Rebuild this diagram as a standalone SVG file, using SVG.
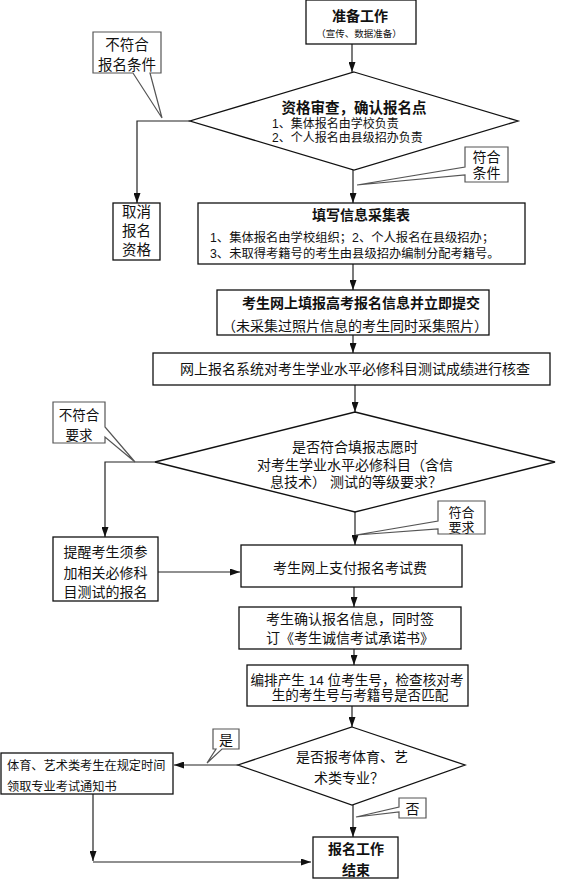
<svg xmlns="http://www.w3.org/2000/svg" width="574" height="880" viewBox="0 0 574 880">
<style>
text{font-family:"Liberation Sans","Noto Sans CJK SC",sans-serif;fill:#111;}
.box{fill:#fff;stroke:#111;stroke-width:1.3;}
.co{fill:#fff;stroke:#555;stroke-width:1.2;}
.ln{fill:none;stroke:#222;stroke-width:1.2;}
.c{text-anchor:middle;}
.b{font-weight:bold;}
</style>
<defs>
<marker id="ah" markerWidth="10" markerHeight="7" refX="10" refY="3.5" orient="auto" markerUnits="userSpaceOnUse">
<path d="M0,0 L10,3.5 L0,7 Z" fill="#111"/>
</marker>
</defs>
<rect width="574" height="880" fill="#fff"/>
<g id="connectors">
<line class="ln" x1="352" y1="44" x2="352" y2="72" marker-end="url(#ah)"/>
<polyline class="ln" points="190,121 137,121 137,203" marker-end="url(#ah)"/>
<line class="ln" x1="353" y1="170" x2="353" y2="203" marker-end="url(#ah)"/>
<line class="ln" x1="353" y1="264" x2="353" y2="290" marker-end="url(#ah)"/>
<line class="ln" x1="353" y1="335" x2="353" y2="353" marker-end="url(#ah)"/>
<line class="ln" x1="355" y1="385" x2="355" y2="412" marker-end="url(#ah)"/>
<polyline class="ln" points="155,462 105,462 105,537" marker-end="url(#ah)"/>
<line class="ln" x1="355" y1="512" x2="355" y2="545" marker-end="url(#ah)"/>
<line class="ln" x1="158" y1="572" x2="240" y2="572" marker-end="url(#ah)"/>
<line class="ln" x1="354" y1="587" x2="354" y2="607" marker-end="url(#ah)"/>
<line class="ln" x1="354" y1="649" x2="354" y2="665" marker-end="url(#ah)"/>
<line class="ln" x1="352" y1="706" x2="352" y2="727" marker-end="url(#ah)"/>
<line class="ln" x1="238" y1="765" x2="174" y2="765" marker-end="url(#ah)"/>
<line class="ln" x1="353" y1="805" x2="353" y2="837" marker-end="url(#ah)"/>
<line class="ln" x1="93" y1="794" x2="93" y2="861" marker-end="url(#ah)"/>
<line class="ln" x1="93" y1="862" x2="311" y2="862" marker-end="url(#ah)"/>
</g>
<g id="start">
<rect class="box" x="306" y="0" width="110" height="44"/>
<text class="c b" x="360" y="21" font-size="14">准备工作</text>
<text class="c" x="359" y="37" font-size="9.5">（宣传、数据准备）</text>
</g>
<g id="check1">
<polygon class="box" points="354,72 518,121 354,170 190,121"/>
<text class="c b" x="354" y="113" font-size="14.5">资格审查，确认报名点</text>
<text x="272" y="128" font-size="12">1、集体报名由学校负责</text>
<text x="272" y="142" font-size="12">2、个人报名由县级招办负责</text>
</g>
<g id="callout-nofit1">
<path class="co" d="M93,32 H161 V73 H150 L162,118 L133,73 H93 Z"/>
<text class="c" x="127" y="50" font-size="14.5">不符合</text>
<text class="c" x="127" y="70" font-size="14.5">报名条件</text>
</g>
<g id="callout-fit1">
<path class="co" d="M465,147 H508 V182 H465 V175 L357,185 L465,167 Z"/>
<text class="c" x="486.5" y="162" font-size="14">符合</text>
<text class="c" x="486.5" y="178" font-size="14">条件</text>
</g>
<g id="cancel">
<rect class="box" x="113" y="203" width="47" height="57"/>
<text class="c" x="136.5" y="216.5" font-size="14.5">取消</text>
<text class="c" x="136.5" y="235.5" font-size="14.5">报名</text>
<text class="c" x="136.5" y="255" font-size="14.5">资格</text>
</g>
<g id="fill-form">
<rect class="box" x="198" y="203" width="327" height="61"/>
<text class="c b" x="361" y="220" font-size="14">填写信息采集表</text>
<text x="210" y="241.5" font-size="12.3">1、集体报名由学校组织；2、个人报名在县级招办；</text>
<text x="210" y="257.5" font-size="12.3">3、未取得考籍号的考生由县级招办编制分配考籍号。</text>
</g>
<g id="online-submit">
<rect class="box" x="217" y="290" width="272" height="45"/>
<text class="c b" x="361" y="308" font-size="14">考生网上填报高考报名信息并立即提交</text>
<text class="c" x="355" y="331" font-size="14">（未采集过照片信息的考生同时采集照片）</text>
</g>
<g id="system-check">
<rect class="box" x="153" y="353" width="397" height="32"/>
<text class="c" x="355" y="374" font-size="14">网上报名系统对考生学业水平必修科目测试成绩进行核查</text>
</g>
<g id="check2">
<polygon class="box" points="355,412 555,462 355,512 155,462"/>
<text class="c" x="355" y="452" font-size="14">是否符合填报志愿时</text>
<text class="c" x="355" y="470" font-size="14">对考生学业水平必修科目（含信</text>
<text x="270" y="487" font-size="14">息技术） 测试的等级要求？</text>
</g>
<g id="callout-nofit2">
<path class="co" d="M53,402 H105 V427 L135,462 L105,437 V443 H53 Z"/>
<text class="c" x="79" y="420" font-size="13.5">不符合</text>
<text class="c" x="79" y="440" font-size="13.5">要求</text>
</g>
<g id="callout-fit2">
<path class="co" d="M438,501 H485 V534 H438 V529 L356,535 L438,521 Z"/>
<text class="c" x="461.5" y="516.5" font-size="13">符合</text>
<text class="c" x="461.5" y="531.5" font-size="13">要求</text>
</g>
<g id="remind">
<rect class="box" x="53" y="537" width="105" height="64"/>
<text class="c" x="105.5" y="557" font-size="14">提醒考生须参</text>
<text class="c" x="105.5" y="578" font-size="14">加相关必修科</text>
<text class="c" x="105.5" y="597" font-size="14">目测试的报名</text>
</g>
<g id="pay">
<rect class="box" x="241" y="545" width="221" height="42"/>
<text class="c" x="350" y="573" font-size="14">考生网上支付报名考试费</text>
</g>
<g id="confirm">
<rect class="box" x="239" y="607" width="222" height="42"/>
<text class="c" x="350" y="624" font-size="14">考生确认报名信息，同时签</text>
<text class="c" x="350" y="643" font-size="14">订《考生诚信考试承诺书》</text>
</g>
<g id="number">
<rect class="box" x="247" y="665" width="221" height="41"/>
<text class="c" x="357" y="685" font-size="13.6">编排产生 14 位考生号，检查核对考</text>
<text class="c" x="360" y="700" font-size="13.6">生的考生号与考籍号是否匹配</text>
</g>
<g id="check3">
<polygon class="box" points="352,727 465,765 352,805 238,765"/>
<text class="c" x="352" y="762" font-size="14">是否报考体育、艺</text>
<text class="c" x="349" y="783" font-size="14">术类专业？</text>
</g>
<g id="callout-yes">
<path class="co" d="M213,729 H239 V749 H222 L207,763 L216,749 H213 Z"/>
<text class="c" x="226" y="744.5" font-size="14">是</text>
</g>
<g id="callout-no">
<path class="co" d="M399,798 H426 V818 H399 V812 L356,817 L399,807 Z"/>
<text class="c" x="412.5" y="813.5" font-size="14">否</text>
</g>
<g id="art-sports">
<rect class="box" x="1" y="753" width="172" height="41"/>
<text x="7" y="769.5" font-size="12.2">体育、艺术类考生在规定时间</text>
<text x="7" y="791" font-size="12.2">领取专业考试通知书</text>
</g>
<g id="end">
<rect class="box" x="313" y="837" width="85" height="41"/>
<text class="c b" x="356" y="854" font-size="14">报名工作</text>
<text class="c b" x="356" y="875" font-size="14">结束</text>
</g>
</svg>
